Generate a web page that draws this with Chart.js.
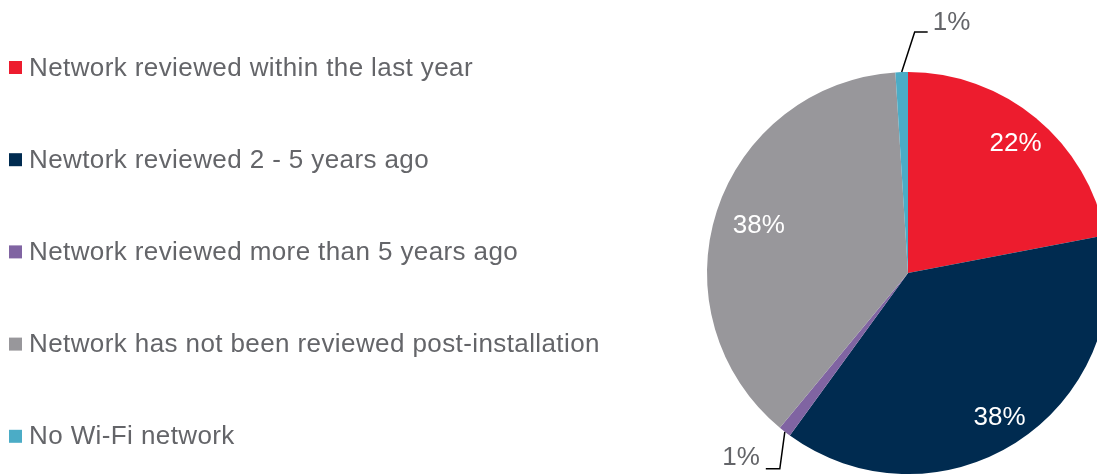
<!DOCTYPE html>
<html lang="en">
<head>
    <meta charset="UTF-8">
    <title>Wi-Fi network review</title>
    <script src="https://cdn.jsdelivr.net/npm/chart.js"></script>
    <style>
        html, body { margin: 0; padding: 0; background: #fff; overflow: hidden; }
        #wrap { position: absolute; left: 0; top: 0; width: 1120px; height: 474px; }
    </style>
</head>
<body>
    <div id="wrap">
        <canvas id="chart" width="1120" height="474"></canvas>
    </div>

    <script>
        const categories = [
            'Network reviewed within the last year',
            'Newtork reviewed 2 - 5 years ago',
            'Network reviewed more than 5 years ago',
            'Network has not been reviewed post-installation',
            'No Wi-Fi network'
        ];
        const shares = [22, 38, 1, 38, 1];
        const colors = ['#ED1C2E', '#002B50', '#8064A2', '#98979B', '#4BACC6'];

        const FONT = '"Liberation Sans", Arial, sans-serif';
        const TEXT_GREY = '#646569';

        // draws the legend column on the left
        const sideLegend = {
            id: 'sideLegend',
            afterDraw(chart) {
                const ctx = chart.ctx;
                const bg = chart.data.datasets[0].backgroundColor;
                ctx.save();
                ctx.font = '26px ' + FONT;
                ctx.letterSpacing = '0.4px';
                ctx.textBaseline = 'middle';
                chart.data.labels.forEach((label, i) => {
                    const y = 67.5 + i * 92.2;
                    ctx.fillStyle = bg[i];
                    ctx.fillRect(9, y - 6.5, 13, 13);
                    ctx.fillStyle = TEXT_GREY;
                    ctx.fillText(label, 29, y + 1);
                });
                ctx.restore();
            }
        };

        // percentage labels, inside or with a leader line
        const sliceLabels = {
            id: 'sliceLabels',
            afterDatasetsDraw(chart, args, opts) {
                const ctx = chart.ctx;
                const meta = chart.getDatasetMeta(0);
                ctx.save();
                ctx.font = '26px ' + FONT;
                meta.data.forEach((arc, i) => {
                    const { x, y, startAngle, endAngle, outerRadius } = arc.getProps(['x', 'y', 'startAngle', 'endAngle', 'outerRadius'], true);
                    const mid = (startAngle + endAngle) / 2;
                    const text = chart.data.datasets[0].data[i] + '%';
                    const leader = opts.leaders[i];
                    if (leader) {
                        const ex = x + Math.cos(mid) * outerRadius;
                        const ey = y + Math.sin(mid) * outerRadius;
                        const kx = ex + leader.dx, ky = ey + leader.dy;
                        const hx = kx + leader.run;
                        ctx.strokeStyle = '#000';
                        ctx.lineWidth = 1.5;
                        ctx.beginPath();
                        ctx.moveTo(ex, ey);
                        ctx.lineTo(kx, ky);
                        ctx.lineTo(hx, ky);
                        ctx.stroke();
                        ctx.fillStyle = TEXT_GREY;
                        ctx.textBaseline = 'middle';
                        ctx.textAlign = leader.run > 0 ? 'left' : 'right';
                        ctx.fillText(text, hx + (leader.run > 0 ? 5 : -6), ky + leader.ty);
                    } else {
                        const r = outerRadius * opts.inset[i];
                        ctx.fillStyle = '#fff';
                        ctx.textAlign = 'center';
                        ctx.textBaseline = 'middle';
                        ctx.fillText(text, x + Math.cos(mid) * r, y + Math.sin(mid) * r + 1);
                    }
                });
                ctx.restore();
            }
        };

        new Chart(document.getElementById('chart'), {
            type: 'pie',
            data: {
                labels: categories,
                datasets: [{
                    data: shares,
                    backgroundColor: colors,
                    borderWidth: 0,
                    hoverOffset: 0
                }]
            },
            options: {
                responsive: false,
                animation: false,
                devicePixelRatio: 1,
                layout: { padding: { left: 707, top: 72, right: 11, bottom: 0 } },
                plugins: {
                    legend: { display: false },
                    tooltip: { enabled: false },
                    sliceLabels: {
                        inset: [0.84, 0.85, 0, 0.78, 0],
                        leaders: [null, null, { dx: -5, dy: 37, run: -14, ty: -11 }, null, { dx: 13, dy: -40, run: 13, ty: -9 }]
                    }
                }
            },
            plugins: [sideLegend, sliceLabels]
        });
    </script>
</body>
</html>
